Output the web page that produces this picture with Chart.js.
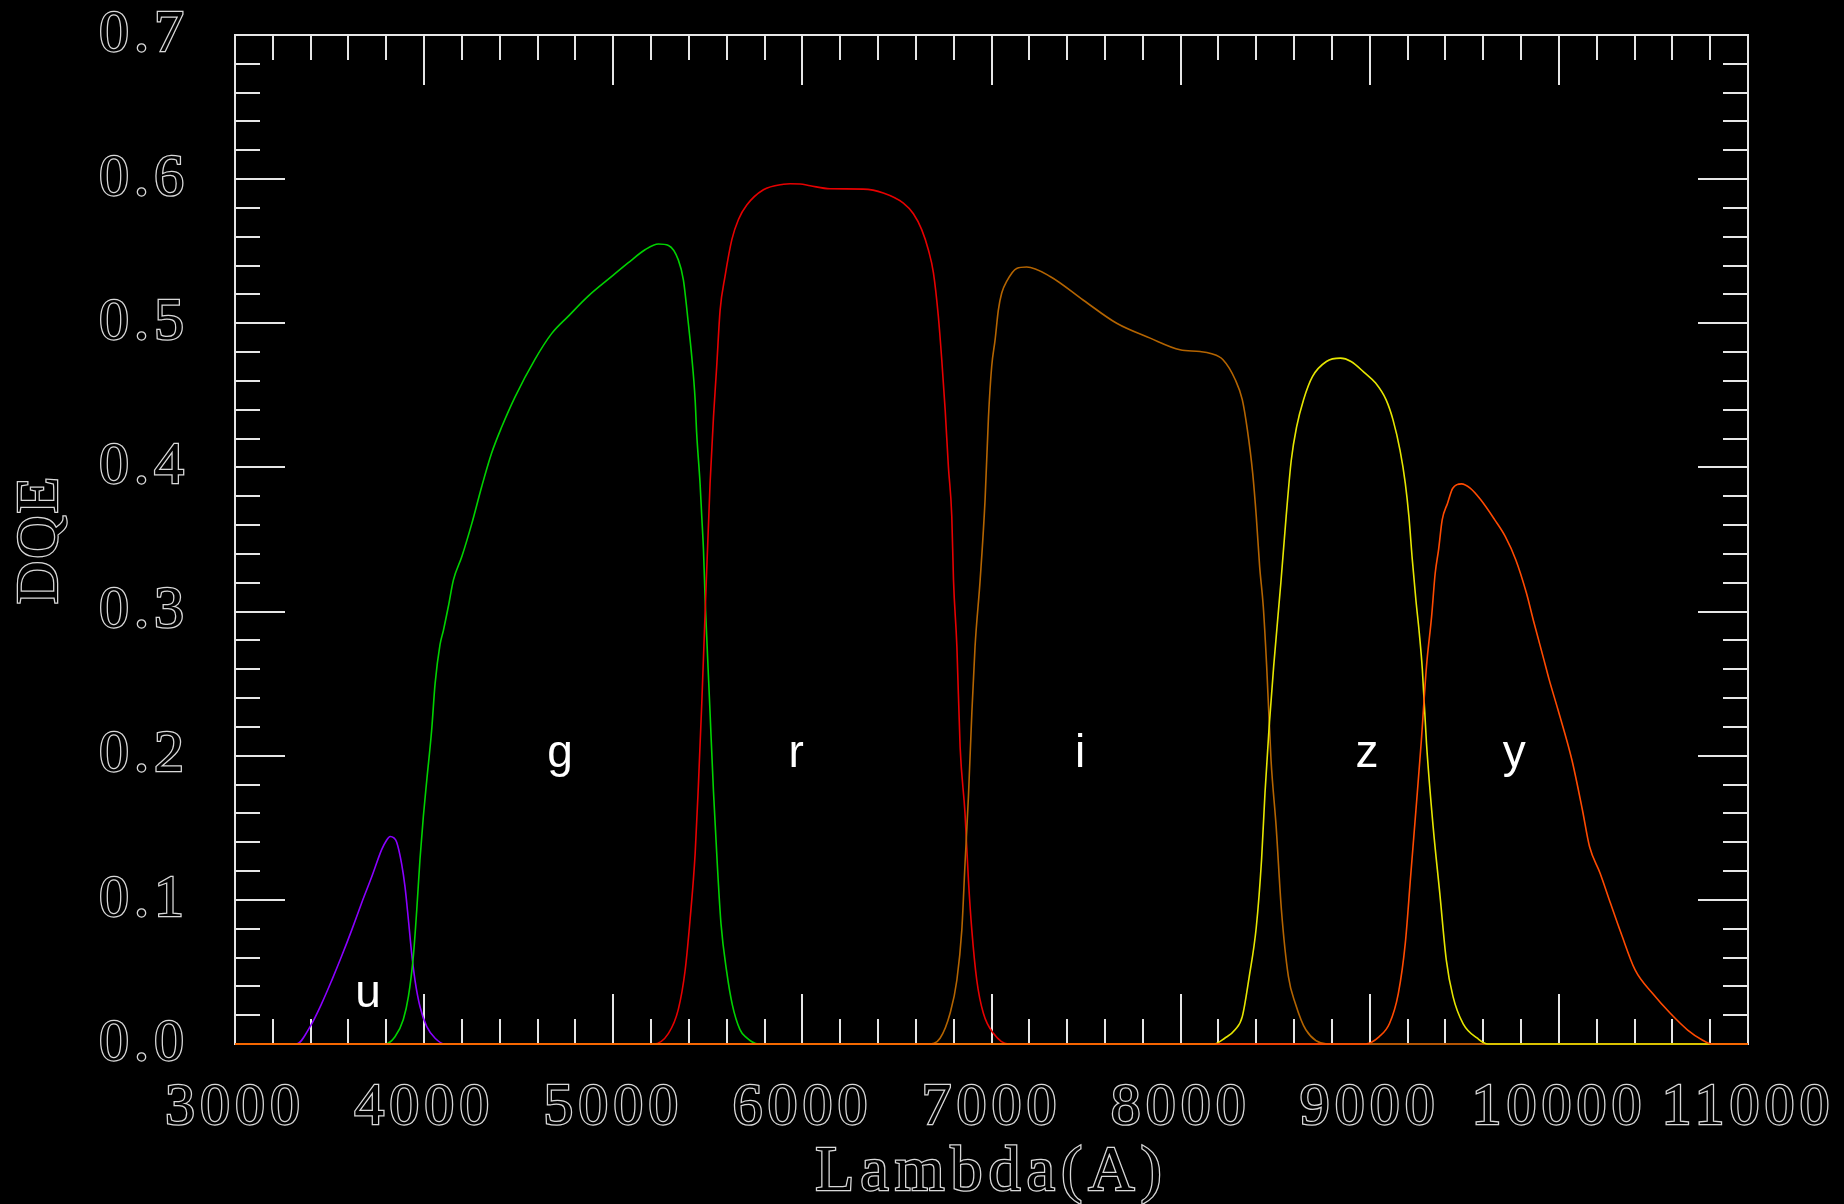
<!DOCTYPE html>
<html><head><meta charset="utf-8">
<script src="https://cdn.jsdelivr.net/npm/chart.js@4.4.1/dist/chart.umd.min.js"></script>
<style>html,body{margin:0;padding:0;background:#000;overflow:hidden}#wrap{width:1844px;height:1204px}</style>
</head><body><div id="wrap"><canvas id="c" width="1844" height="1204"></canvas></div>
<script>
// ---- data (wavelength in Angstrom, DQE) ----
const uWave = [3000,3326,3397,3458,3511,3564,3617,3670,3723,3776,3800,3820,3840,3855,3881,3899,3917,3934,3952,3978,4014,4058,4110,11000];
const uDQE  = [0,0,0.012,0.028,0.044,0.061,0.079,0.098,0.116,0.135,0.141,0.144,0.143,0.140,0.125,0.109,0.086,0.063,0.044,0.026,0.012,0.004,0,0];

const gWave = [3000,3793,3846,3890,3917,3943,3961,3978,3996,4014,4040,4058,4084,4102,4128,4155,4199,4252,4305,4357,4410,4481,4586,4675,4763,4869,4992,5080,5168,5239,5292,5344,5371,5397,5415,5433,5441,5459,5468,5477,5486,5494,5512,5530,5550,5570,5600,5630,5670,5700,5767,11000];
const gDQE  = [0,0,0.005,0.017,0.033,0.061,0.093,0.128,0.158,0.183,0.218,0.250,0.277,0.287,0.3035,0.322,0.338,0.361,0.387,0.410,0.428,0.449,0.475,0.493,0.505,0.519,0.5325,0.542,0.551,0.555,0.554,0.544,0.530,0.500,0.477,0.447,0.424,0.389,0.366,0.343,0.308,0.283,0.2295,0.175,0.125,0.083,0.050,0.027,0.010,0.005,0,0];

const rWave = [3000,5212,5292,5344,5380,5406,5433,5450,5468,5486,5512,5530,5547,5565,5591,5627,5662,5706,5794,5900,5935,5988,6041,6146,6322,6428,6534,6587,6631,6666,6693,6719,6737,6755,6772,6790,6799,6817,6834,6860,6878,6896,6922,6957,7010,7089,11000];
const rDQE  = [0,0,0.0074,0.024,0.051,0.086,0.132,0.179,0.236,0.300,0.389,0.435,0.470,0.509,0.5325,0.558,0.572,0.582,0.5926,0.5965,0.5968,0.5966,0.5954,0.5933,0.5931,0.5904,0.5834,0.576,0.565,0.551,0.535,0.5047,0.4747,0.440,0.4006,0.366,0.322,0.2757,0.2063,0.160,0.1138,0.079,0.0444,0.0213,0.0074,0,0];

const iWave = [3000,6666,6728,6781,6817,6843,6860,6878,6896,6913,6940,6966,6984,7001,7019,7036,7054,7080,7133,7186,7310,7486,7662,7839,7997,8103,8159,8224,8289,8326,8353,8381,8400,8418,8437,8455,8478,8505,8533,8570,8607,8663,8775,11000];
const iDQE  = [0,0,0.004,0.0213,0.0444,0.079,0.125,0.1716,0.2295,0.2757,0.322,0.3775,0.435,0.470,0.4885,0.509,0.521,0.529,0.538,0.539,0.5325,0.516,0.500,0.4897,0.4816,0.4804,0.479,0.4747,0.4608,0.447,0.426,0.396,0.366,0.331,0.3035,0.262,0.197,0.151,0.093,0.0467,0.028,0.0097,0,0];

const zWave = [3000,8177,8233,8289,8326,8363,8400,8428,8446,8468,8492,8530,8558,8585,8613,8650,8697,8771,8845,8901,8975,9031,9086,9123,9160,9188,9207,9225,9244,9262,9278,9300,9335,9370,9405,9440,9494,9569,9624,11000];
const zDQE  = [0,0,0.004,0.010,0.019,0.047,0.081,0.128,0.174,0.220,0.262,0.320,0.366,0.405,0.428,0.447,0.463,0.4735,0.4758,0.4735,0.4654,0.4585,0.447,0.433,0.412,0.389,0.366,0.336,0.308,0.285,0.260,0.2087,0.151,0.105,0.058,0.033,0.014,0.004,0,0];

const yWave = [3000,8975,9049,9105,9151,9188,9216,9244,9272,9300,9327,9346,9364,9383,9411,9439,9485,9531,9587,9661,9717,9772,9828,9865,9921,9949,9995,10069,10125,10162,10218,10273,10329,10403,10496,10589,10681,10756,10811,11000];
const yDQE  = [0,0,0.005,0.0144,0.035,0.070,0.116,0.162,0.209,0.262,0.2965,0.3266,0.343,0.3636,0.375,0.3856,0.3886,0.3856,0.3775,0.3636,0.352,0.336,0.313,0.294,0.2665,0.2526,0.232,0.197,0.162,0.137,0.1185,0.0976,0.0768,0.0514,0.035,0.0213,0.0097,0.003,0,0];

const bandNames  = ['u','g','r','i','z','y'];
const bandWaves  = [uWave,gWave,rWave,iWave,zWave,yWave];
const bandValues = [uDQE,gDQE,rDQE,iDQE,zDQE,yDQE];
const bandLabelX = [3703,4719,5967,7469,8986,9764];
const bandLabelY = [0.026,0.192,0.192,0.192,0.192,0.192];

const xTitle = 'Lambda(A)';
const yTitle = 'DQE';

// ---- styles ----
const bandColors = ['#8a00ff','#00d200','#e60000','#b46400','#e6e600','#ff4a00'];
const axisColor = '#e6e6e6';
const tickFont = {family:'"Liberation Serif"', size:60};

const datasets = bandNames.map((n,k)=>({
  label:n,
  data: bandWaves[k].map((w,i)=>({x:w, y:bandValues[k][i]})),
  borderColor: bandColors[k],
  borderWidth: 1.6,
  pointRadius: 0,
  cubicInterpolationMode: 'monotone',
  showLine: true,
  fill: false,
  clip: 4,
  order: bandNames.length - k
}));

function fixSize(prop, val){
  return function(s){
    s[prop] = val;
    s.paddingTop = 0; s.paddingBottom = 0; s.paddingLeft = 0; s.paddingRight = 0;
  };
}

const frameTicks = {
  id:'frameTicks',
  beforeDraw(chart){ chart.ctx.letterSpacing = '5px'; },
  beforeDatasetsDraw(chart){
    const {ctx, chartArea:a, scales:{x,y}} = chart;
    ctx.save();
    ctx.letterSpacing = '0px';
    ctx.strokeStyle = axisColor; ctx.lineWidth = 2;
    ctx.beginPath();
    for(let v=3000; v<=11000; v+=200){
      const px = Math.round(x.getPixelForValue(v));
      const L = (v % 1000 === 0) ? 50 : 25;
      ctx.moveTo(px, a.bottom); ctx.lineTo(px, a.bottom - L);
      ctx.moveTo(px, a.top); ctx.lineTo(px, a.top + L);
    }
    for(let i=0; i<=35; i++){
      const py = Math.round(y.getPixelForValue(i*0.02));
      const L = (i % 5 === 0) ? 50 : 25;
      ctx.moveTo(a.left, py); ctx.lineTo(a.left + L, py);
      ctx.moveTo(a.right, py); ctx.lineTo(a.right - L, py);
    }
    ctx.stroke();
    ctx.restore();
  },
  afterDatasetsDraw(chart){
    const {ctx, scales:{x,y}} = chart;
    ctx.save();
    ctx.letterSpacing = '0px';
    ctx.fillStyle = '#ffffff';
    ctx.font = '46px "Liberation Sans"';
    ctx.textAlign = 'center'; ctx.textBaseline = 'alphabetic';
    bandNames.forEach((n,k)=>{
      ctx.fillText(n, x.getPixelForValue(bandLabelX[k]), y.getPixelForValue(bandLabelY[k]));
    });
    ctx.restore();
  },
  afterDraw(chart){
    const {ctx, chartArea:a} = chart;
    ctx.save();
    ctx.lineWidth = 2.5; ctx.strokeStyle = '#d8d8d8'; ctx.fillStyle = '#000';
    ctx.textAlign = 'center'; ctx.textBaseline = 'alphabetic';
    ctx.font = '64px "Liberation Serif"';
    ctx.letterSpacing = '6px';
    const cx = (a.left + a.right)/2;
    ctx.strokeText(xTitle, cx, 1190); ctx.fillText(xTitle, cx, 1190);
    ctx.translate(57, (a.top + a.bottom)/2);
    ctx.rotate(-Math.PI/2);
    ctx.font = '60px "Liberation Serif"';
    ctx.letterSpacing = '2px';
    ctx.strokeText(yTitle, 0, 0); ctx.fillText(yTitle, 0, 0);
    ctx.restore();
    ctx.letterSpacing = '0px';
  }
};

new Chart(document.getElementById('c'), {
  type: 'scatter',
  data: { datasets },
  options: {
    responsive: false,
    animation: false,
    devicePixelRatio: 1,
    layout: { padding: 0 },
    plugins: { legend: {display:false}, tooltip: {enabled:false} },
    scales: {
      x: {
        type:'linear', position:'bottom', min:3000, max:11000,
        afterFit: fixSize('height', 160),
        grid: { display:false, drawTicks:false },
        border: { display:true, color:axisColor, width:2 },
        ticks: { stepSize:1000, autoSkip:false, maxRotation:0, padding:28,
          font: tickFont, color:'#000', textStrokeColor:'#d8d8d8', textStrokeWidth:2.5,
          callback: v => String(v) }
      },
      y: {
        type:'linear', position:'left', min:0, max:0.7,
        afterFit: fixSize('width', 235),
        grid: { display:false, drawTicks:false },
        border: { display:true, color:axisColor, width:2 },
        ticks: { stepSize:0.1, autoSkip:false, padding:46,
          font: tickFont, color:'#000', textStrokeColor:'#d8d8d8', textStrokeWidth:2.5,
          callback: v => Number(v).toFixed(1) }
      },
      x2: {
        type:'linear', position:'top', min:3000, max:11000,
        afterFit: fixSize('height', 35),
        grid: { display:false, drawTicks:false },
        border: { display:true, color:axisColor, width:2 },
        ticks: { display:false }
      },
      y2: {
        type:'linear', position:'right', min:0, max:0.7,
        afterFit: fixSize('width', 96),
        grid: { display:false, drawTicks:false },
        border: { display:true, color:axisColor, width:2 },
        ticks: { display:false }
      }
    }
  },
  plugins: [frameTicks]
});
</script>
</body></html>
